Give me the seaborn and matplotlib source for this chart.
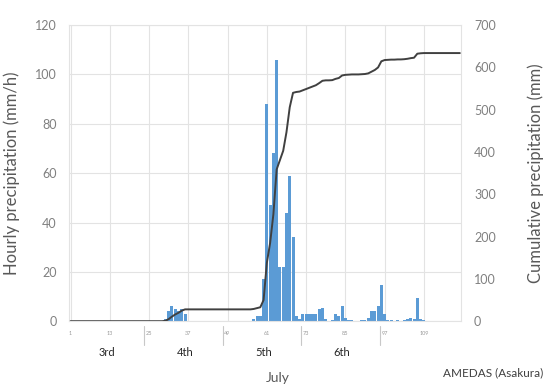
import numpy as np
import matplotlib
matplotlib.use("Agg")
import matplotlib.pyplot as plt
import matplotlib.transforms as mtransforms
import seaborn as sns

# ===== data =====
hours = list(range(1, 121))

day3 = [0] * 24
day4 = [0, 0, 0, 0, 0, 1, 4, 6, 5, 4, 5, 3,
        0, 0, 0, 0, 0, 0, 0, 0, 0, 0, 0, 0]
day5 = [0, 0, 0, 0, 0, 0, 0, 0, 1, 2, 2, 17,
        88, 47, 68, 106, 22, 22, 44, 59, 34, 2, 1, 3]
day6 = [3, 3, 3, 3, 5, 5.5, 1, 0, 0.5, 3, 2, 6,
        1.5, 0.5, 0.5, 0, 0, 0.5, 0.5, 1.5, 4, 4, 6, 14.5]
day7 = [3, 0.5, 0.5, 0, 0.5, 0, 0.5, 1, 1.5, 1, 9.5, 1,
        0.5, 0, 0, 0, 0, 0, 0, 0, 0, 0, 0, 0]
hourly = day3 + day4 + day5 + day6 + day7
cumulative = np.cumsum(hourly)

hour_ticks = [1, 13, 25, 37, 49, 61, 73, 85, 97, 109]
day_labels = ["3rd", "4th", "5th", "6th"]
day_centers = [12, 36, 60, 84]
day_edges = [23.5, 47.5, 71.5, 95.5]

BAR = "#5B9BD5"
LINE = "#404040"
GRID = "#e3e3e3"
TXT = "#595959"

sns.set_style("white")
plt.rcParams["font.family"] = ["Lato", "DejaVu Sans"]

fig = plt.figure(figsize=(5.56, 3.87), dpi=100)
ax = fig.add_axes([0.124, 0.170, 0.706, 0.765])

sns.barplot(x=hours, y=hourly, native_scale=True, color=BAR, saturation=1,
            width=0.92, linewidth=0, errorbar=None, ax=ax)
ax.set_xlim(0.5, 120.5)
ax.set_ylim(0, 120)
ax.set_yticks(range(0, 121, 20))
ax.set_xticks(hour_ticks)
ax.set_xticklabels([str(h) for h in hour_ticks], fontsize=4, color="#9a9a9a")
ax.tick_params(axis="x", length=0, pad=7)
ax.tick_params(axis="y", length=0, pad=9, labelsize=9, labelcolor="#808080")
ax.grid(True, color=GRID, linewidth=0.8)
ax.set_axisbelow(True)
for s in ax.spines.values():
    s.set_color(GRID)
    s.set_linewidth(0.8)
ax.set_ylabel("Hourly precipitation (mm/h)", fontsize=12, color=TXT)
ax.yaxis.set_label_coords(-0.125, 0.5)
ax.set_xlabel("")

ax2 = ax.twinx()
sns.lineplot(x=hours, y=cumulative, color=LINE, linewidth=1.4, ax=ax2)
ax2.set_ylim(0, 700)
ax2.set_yticks(range(0, 701, 100))
ax2.tick_params(axis="y", length=0, pad=9, labelsize=9, labelcolor="#808080")
ax2.grid(False)
for s in ax2.spines.values():
    s.set_visible(False)
ax2.set_ylabel("Cumulative precipitation (mm)", fontsize=12, color=TXT)
ax2.yaxis.set_label_coords(1.168, 0.5)

# day separators and labels under the hour axis
trans = mtransforms.blended_transform_factory(ax.transData, ax.transAxes)
for e in day_edges:
    ax.plot([e, e], [-0.015, -0.08], transform=trans, color="#c8c8c8",
            linewidth=0.8, clip_on=False)
for c, lab in zip(day_centers, day_labels):
    ax.text(c, -0.105, lab, transform=trans, ha="center", va="center",
            fontsize=8, color="#262626")

fig.text(0.5, 0.023, "July", ha="center", va="center", fontsize=10, color=TXT)
fig.text(0.887, 0.037, "AMEDAS (Asakura)", ha="center", va="center",
         fontsize=8.5, color="#404040")

fig.savefig("out.png", dpi=100)
